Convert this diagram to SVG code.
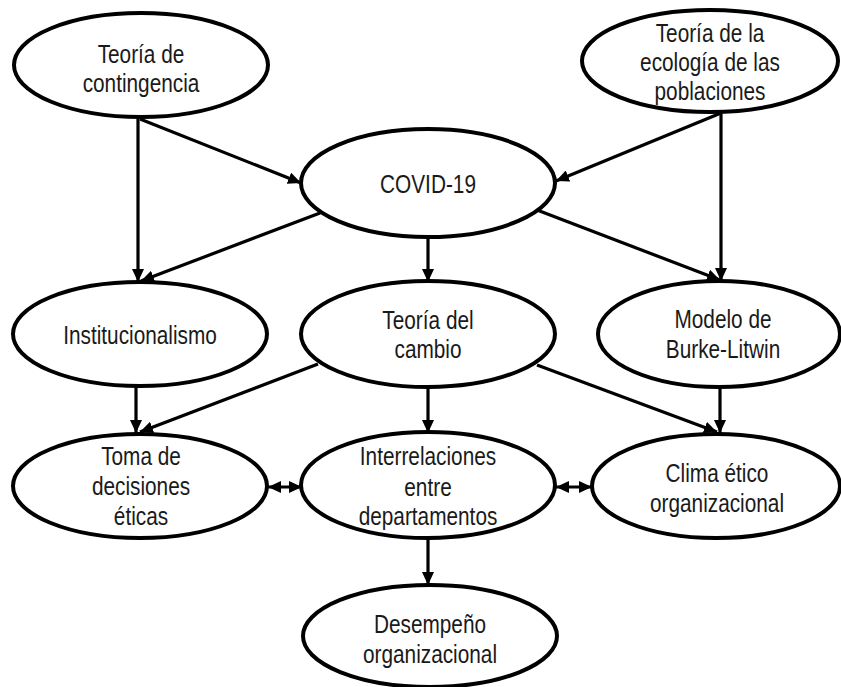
<svg xmlns="http://www.w3.org/2000/svg" width="841" height="687" viewBox="0 0 841 687">
  <style>
    .node ellipse { fill: #ffffff; stroke: #000000; stroke-width: 4; }
    .node text { font-family: "Liberation Sans", Arial, Helvetica, sans-serif; font-size: 26px; fill: #1a1a1a; text-anchor: middle; }
    .edges line { stroke: #000000; stroke-width: 3.2; fill: none; }
    .edges .one { marker-end: url(#head); }
    .edges .two { marker-start: url(#head); marker-end: url(#head); }
  </style>
  <defs>
    <marker id="head" markerUnits="userSpaceOnUse" markerWidth="14" markerHeight="12" refX="13" refY="6" orient="auto-start-reverse">
      <path d="M0,0 L13,6 L0,12 z" fill="#000000"/>
    </marker>
  </defs>
  <rect width="841" height="687" fill="#ffffff"/>

  <!-- connectors -->
  <g id="edges" class="edges">
    <line class="one" x1="138" y1="118" x2="138" y2="282"/>
    <line class="one" x1="140" y1="119" x2="301" y2="183"/>
    <line class="one" x1="320" y1="213" x2="141" y2="281"/>
    <line class="one" x1="721" y1="113" x2="556" y2="181"/>
    <line class="one" x1="721" y1="113" x2="721" y2="281"/>
    <line class="one" x1="537" y1="210" x2="720" y2="280"/>
    <line class="one" x1="428" y1="237" x2="428" y2="282"/>
    <line class="one" x1="136" y1="386" x2="136" y2="433"/>
    <line class="one" x1="318" y1="364" x2="140" y2="432"/>
    <line class="one" x1="428" y1="387" x2="428" y2="433"/>
    <line class="one" x1="537" y1="365" x2="717" y2="432"/>
    <line class="one" x1="720" y1="387" x2="720" y2="433"/>
    <line class="two" x1="268" y1="487" x2="302" y2="487"/>
    <line class="two" x1="556" y1="487" x2="592" y2="487"/>
    <line class="one" x1="428" y1="538" x2="428" y2="585"/>
  </g>

  <!-- nodes -->
  <g id="contingencia" class="node">
    <ellipse cx="141" cy="65" rx="127" ry="52"/>
    <text transform="translate(141 0) scale(0.8 1)"><tspan x="0" y="63">Teoría de</tspan><tspan x="0" y="92">contingencia</tspan></text>
  </g>
  <g id="ecologia" class="node">
    <ellipse cx="710" cy="61" rx="128" ry="51"/>
    <text transform="translate(710 0) scale(0.8 1)"><tspan x="0" y="42">Teoría de la</tspan><tspan x="0" y="71">ecología de las</tspan><tspan x="0" y="100">poblaciones</tspan></text>
  </g>
  <g id="covid" class="node">
    <ellipse cx="428" cy="183" rx="127" ry="54"/>
    <text transform="translate(428 0) scale(0.8 1)"><tspan x="0" y="193">COVID-19</tspan></text>
  </g>
  <g id="institucionalismo" class="node">
    <ellipse cx="140" cy="334" rx="127" ry="52"/>
    <text transform="translate(140 0) scale(0.8 1)"><tspan x="0" y="344">Institucionalismo</tspan></text>
  </g>
  <g id="cambio" class="node">
    <ellipse cx="428" cy="334" rx="127" ry="53"/>
    <text transform="translate(428 0) scale(0.8 1)"><tspan x="0" y="329">Teoría del</tspan><tspan x="0" y="358">cambio</tspan></text>
  </g>
  <g id="burke" class="node">
    <ellipse cx="719" cy="334" rx="121" ry="53"/>
    <text transform="translate(723 0) scale(0.8 1)"><tspan x="0" y="328">Modelo de</tspan><tspan x="0" y="358">Burke-Litwin</tspan></text>
  </g>
  <g id="toma" class="node">
    <ellipse cx="140" cy="486" rx="127" ry="52"/>
    <text transform="translate(141 0) scale(0.8 1)"><tspan x="0" y="465">Toma de</tspan><tspan x="0" y="495">decisiones</tspan><tspan x="0" y="525">éticas</tspan></text>
  </g>
  <g id="interrelaciones" class="node">
    <ellipse cx="428" cy="485" rx="127" ry="53"/>
    <text transform="translate(428 0) scale(0.8 1)"><tspan x="0" y="465">Interrelaciones</tspan><tspan x="0" y="496">entre</tspan><tspan x="0" y="525">departamentos</tspan></text>
  </g>
  <g id="clima" class="node">
    <ellipse cx="716" cy="486" rx="124" ry="52"/>
    <text transform="translate(717 0) scale(0.8 1)"><tspan x="0" y="482">Clima ético</tspan><tspan x="0" y="512">organizacional</tspan></text>
  </g>
  <g id="desempeno" class="node">
    <ellipse cx="430" cy="636" rx="127" ry="51"/>
    <text transform="translate(430 0) scale(0.8 1)"><tspan x="0" y="633">Desempeño</tspan><tspan x="0" y="663">organizacional</tspan></text>
  </g>
</svg>
